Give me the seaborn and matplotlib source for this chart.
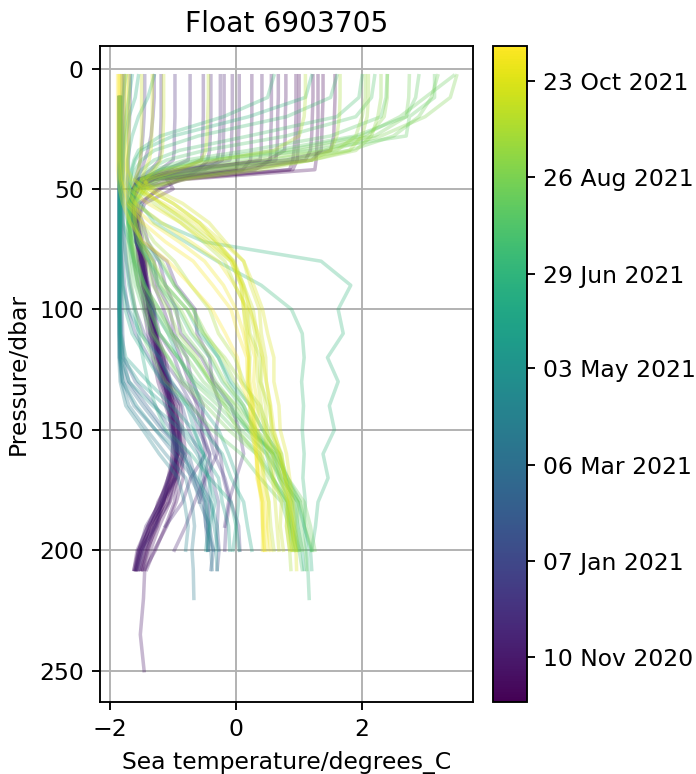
import numpy as np
import pandas as pd
import matplotlib
matplotlib.use("Agg")
import matplotlib.pyplot as plt
import matplotlib.dates as mdates
import seaborn as sns

# Pressure levels (dbar) shared by all profiles; each profile uses a prefix of them
PRES = [3, 12, 20, 28, 34, 38, 42, 46, 50, 56, 64, 72, 80, 90, 100, 110, 120, 130,
        140, 150, 160, 170, 180, 190, 200, 208, 220, 235, 250]

# ---- Autumn 2020 (purple) ----
dates_autumn_2020 = ["2020-10-14", "2020-10-15", "2020-10-17", "2020-10-20", "2020-10-23",
                     "2020-10-26", "2020-10-29", "2020-11-01", "2020-11-02", "2020-11-04",
                     "2020-11-07", "2020-11-10", "2020-11-13", "2020-11-16", "2020-11-19",
                     "2020-11-20", "2020-11-22", "2020-11-25", "2020-11-28", "2020-12-01",
                     "2020-12-04"]
temps_autumn_2020 = [
    [1.57, 1.57, 1.56, 1.55, 1.5, 0.8, -1.0, -1.55, -1.64, -1.67, -1.60, -1.58, -1.50, -1.47, -1.36, -1.33, -1.20, -1.15, -1.00, -0.98, -0.90, -1.02, -1.12, -1.33, -1.45, -1.52],
    [1.0, 1.0, 1.0, 0.99, 0.98, 0.97, 0.9, -0.9, -1.2, -1.55, -1.60, -1.54, -1.50, -1.43, -1.40, -1.30, -1.25, -1.10, -1.05, -0.95, -0.93, -1.02, -1.16, -1.36, -1.52, -1.6],
    [1.38, 1.38, 1.37, 1.36, 1.35, 1.2, -0.4, -1.45, -1.62, -1.66, -1.62, -1.53, -1.52, -1.42, -1.38, -1.27, -1.22, -1.05, -1.00, -0.88, -0.92, -0.95, -1.15, -1.25, -1.42, -1.5],
    [1.3, 1.3, 1.3, 1.29, 1.28, 1.27, 1.25, -0.8, -1.55, -1.66, -1.58, -1.56, -1.44, -1.44, -1.32, -1.30, -1.15, -1.12, -0.95, -0.92, -0.85, -0.97, -1.08, -1.28, -1.40, -1.48],
    [1.22, 1.22, 1.21, 1.2, 1.18, 1.1, 0.2, -1.2, -1.6, -1.70, -1.65, -1.57, -1.55, -1.48, -1.43, -1.35, -1.28, -1.18, -1.08, -1.02, -1.00, -1.08, -1.22, -1.40, -1.55, -1.62],
    [0.95, 0.95, 0.95, 0.94, 0.92, 0.9, 0.85, -1.0, -1.55, -1.66, -1.58, -1.53, -1.46, -1.40, -1.30, -1.26, -1.12, -1.05, -0.88, -0.85, -0.80, -0.92, -1.05, -1.22, -1.36, -1.45],
    [0.79, 0.79, 0.78, 0.78, 0.77, 0.5, -0.8, -1.5, -1.63, -1.67, -1.63, -1.55, -1.50, -1.44, -1.38, -1.26, -1.22, -1.08, -1.05, -0.94, -0.95, -0.98, -1.18, -1.30, -1.50, -1.58],
    [0.67, 0.67, 0.66, 0.66, 0.65, 0.63, 0.1, -1.35, -1.6, -1.68, -1.61, -1.59, -1.48, -1.47, -1.37, -1.35, -1.22, -1.16, -1.00, -1.00, -0.92, -1.05, -1.15, -1.37, -1.50, -1.57],
    [0.25, 0.25, 0.25, 0.24, 0.24, 0.23, 0.1, -1.1, -1.0, -1.45, -1.58, -1.50, -1.52, -1.40, -1.36, -1.28, -1.20, -1.10, -0.98, -0.90, -0.86, -0.84, -0.95, -1.10, -1.30, -1.42],
    [0.56, 0.56, 0.56, 0.55, 0.55, 0.54, 0.3, -1.3, -1.6, -1.70, -1.64, -1.58, -1.55, -1.50, -1.46, -1.40, -1.32, -1.24, -1.12, -1.00, -0.95, -0.92, -0.98, -1.12, -1.28, -1.45, -1.47, -1.52, -1.46],
    [0.41, 0.41, 0.41, 0.4, 0.4, 0.38, -0.6, -1.45, -1.62, -1.66, -1.58, -1.57, -1.45, -1.45, -1.34, -1.32, -1.18, -1.14, -1.05, -1.00, -0.97, -1.06, -1.22, -1.40, -1.57, -1.62],
    [0.05, 0.05, 0.05, 0.04, 0.04, 0.03, 0.0, -1.3, -1.6, -1.68, -1.64, -1.55, -1.50, -1.42, -1.40, -1.28, -1.27, -1.12, -1.10, -0.98, -1.02, -1.03, -1.24, -1.34, -1.55, -1.6],
    [-0.06, -0.06, -0.06, -0.07, -0.07, -0.1, -0.9, -1.5, -1.64, -1.66, -1.57, -1.56, -1.43, -1.42, -1.30, -1.29, -1.15, -1.08, -0.92, -0.92, -0.84, -0.97, -1.06, -1.30, -1.42, -1.5],
    [-0.19, -0.19, -0.19, -0.2, -0.2, -0.22, -0.5, -1.4, -1.6, -1.67, -1.64, -1.54, -1.50, -1.41, -1.39, -1.27, -1.24, -1.08, -1.06, -0.92, -0.96, -0.97, -1.18, -1.28, -1.52, -1.58],
    [-0.25, -0.25, -0.25, -0.26, -0.27, -0.3, -0.7, -1.45, -1.62, -1.65, -1.58, -1.58, -1.48, -1.48, -1.37, -1.36, -1.22, -1.18, -1.02, -1.00, -0.92, -1.08, -1.15, -1.38, -1.48, -1.55],
    [-0.4, -0.4, -0.4, -0.41, -0.42, -0.45, -0.6, -0.85, -1.25, -1.5, -1.56, -1.50, -1.38, -1.30, -1.15, -1.02, -0.88, -0.75, -0.62, -0.55, -0.42, -0.50, -0.66, -0.80, -0.98],
    [-0.52, -0.52, -0.52, -0.53, -0.53, -0.55, -0.9, -1.5, -1.62, -1.66, -1.63, -1.52, -1.48, -1.38, -1.37, -1.25, -1.23, -1.06, -1.04, -0.90, -0.95, -0.96, -1.17, -1.27, -1.48, -1.55],
    [-0.73, -0.73, -0.73, -0.74, -0.75, -0.76, -1.1, -1.55, -1.64, -1.67, -1.59, -1.59, -1.47, -1.48, -1.36, -1.37, -1.24, -1.20, -1.05, -1.04, -0.94, -1.08, -1.20, -1.43, -1.54, -1.6],
    [-0.97, -0.97, -0.97, -0.98, -0.98, -1.0, -1.2, -1.5, -1.6, -1.64, -1.55, -1.52, -1.30, -1.25, -1.05, -0.98, -0.78, -0.70, -0.52, -0.55, -0.48, -0.72, -0.85, -1.12],
    [-1.19, -1.19, -1.19, -1.2, -1.2, -1.22, -1.35, -1.55, -1.62, -1.64, -1.52, -1.48, -1.10, -0.95, -0.65, -0.62, -0.42, -0.38, -0.25, -0.32, -0.30, -0.48, -0.58],
    [-1.3, -1.3, -1.32, -1.35, -1.4, -1.45, -1.5, -1.58, -1.62, -1.60, -1.48, -1.40, -1.22, -1.12, -0.95, -0.88, -0.55, -0.35, -0.08, 0.05, 0.12, 0.0, -0.12, -0.18],
]

# ---- Early winter 2020/21 (indigo) ----
dates_winter_2021 = ["2020-12-10", "2020-12-22", "2021-01-04", "2021-01-18", "2021-02-01", "2021-02-15"]
temps_winter_2021 = [
    [-1.45, -1.45, -1.46, -1.48, -1.5, -1.52, -1.55, -1.6, -1.64, -1.66, -1.63, -1.58, -1.52, -1.44, -1.30, -1.22, -0.98, -0.85, -0.58, -0.45, -0.25, -0.20, -0.10, -0.16, -0.18],
    [-1.68, -1.68, -1.69, -1.7, -1.7, -1.71, -1.71, -1.72, -1.72, -1.72, -1.7, -1.67, -1.62, -1.55, -1.45, -1.30, -1.18, -0.90, -0.70, -0.45, -0.35, -0.18, -0.08, 0.04, 0.06],
    [-1.78, -1.78, -1.78, -1.79, -1.79, -1.79, -1.79, -1.8, -1.8, -1.8, -1.79, -1.77, -1.74, -1.68, -1.6, -1.46, -1.22, -1.04, -0.72, -0.60, -0.42, -0.38, -0.28, -0.30, -0.27, -0.3],
    [-1.81, -1.81, -1.81, -1.81, -1.82, -1.82, -1.82, -1.82, -1.82, -1.82, -1.82, -1.81, -1.8, -1.77, -1.72, -1.6, -1.38, -1.18, -0.86, -0.75, -0.58, -0.52, -0.42, -0.45, -0.44],
    [None, -1.83, -1.83, -1.83, -1.83, -1.83, -1.83, -1.83, -1.83, -1.83, -1.83, -1.83, -1.82, -1.82, -1.81, -1.8, -1.78, -1.6, -1.28, -1.04, -0.75, -0.65, -0.50, -0.48, -0.45],
    [None, -1.84, -1.84, -1.84, -1.84, -1.84, -1.84, -1.84, -1.84, -1.84, -1.84, -1.84, -1.84, -1.83, -1.83, -1.82, -1.8, -1.7, -1.42, -1.14, -0.82, -0.72, -0.52, -0.48, -0.36, -0.4],
]

# ---- Spring 2021 (blue-teal) ----
dates_spring_2021 = ["2021-03-01", "2021-03-13", "2021-03-25", "2021-04-06", "2021-04-18",
                     "2021-04-30", "2021-05-05", "2021-05-12", "2021-05-24", "2021-05-28"]
temps_spring_2021 = [
    [None, -1.85, -1.85, -1.85, -1.85, -1.85, -1.85, -1.85, -1.85, -1.85, -1.85, -1.85, -1.85, -1.85, -1.85, -1.85, -1.84, -1.75, -1.48, -1.18, -0.82, -0.66, -0.46, -0.42, -0.36],
    [None, -1.86, -1.86, -1.86, -1.86, -1.86, -1.86, -1.86, -1.86, -1.86, -1.86, -1.86, -1.86, -1.86, -1.86, -1.85, -1.85, -1.8, -1.62, -1.28, -0.98, -0.68, -0.58, -0.42, -0.4, -0.38],
    [None, -1.86, -1.86, -1.86, -1.86, -1.86, -1.86, -1.86, -1.86, -1.86, -1.86, -1.86, -1.86, -1.86, -1.86, -1.86, -1.85, -1.82, -1.7, -1.42, -1.12, -0.80, -0.70, -0.66, -0.70, -0.68, -0.67],
    [None, -1.86, -1.86, -1.86, -1.86, -1.86, -1.86, -1.86, -1.86, -1.86, -1.86, -1.86, -1.86, -1.86, -1.86, -1.86, -1.86, -1.84, -1.75, -1.48, -1.22, -0.92, -0.82, -0.76, -0.8],
    [None, -1.85, -1.85, -1.85, -1.85, -1.85, -1.85, -1.85, -1.85, -1.85, -1.85, -1.85, -1.85, -1.85, -1.85, -1.85, -1.84, -1.8, -1.58, -1.28, -0.88, -0.62, -0.40, -0.35, -0.28],
    [None, -1.85, -1.85, -1.85, -1.85, -1.85, -1.85, -1.85, -1.85, -1.85, -1.85, -1.85, -1.85, -1.85, -1.85, -1.84, -1.83, -1.7, -1.32, -0.88, -0.62, -0.43, -0.40, -0.30, -0.32, -0.3],
    [None, -1.84, -1.84, -1.84, -1.84, -1.84, -1.84, -1.84, -1.84, -1.84, -1.84, -1.84, -1.82, -1.8, -1.70, -1.52, -1.22, -1.02, -0.78, -0.66, -0.52, -0.58, -0.48, -0.44, -0.48],
    [None, -1.85, -1.85, -1.85, -1.85, -1.85, -1.85, -1.85, -1.85, -1.85, -1.85, -1.85, -1.85, -1.85, -1.85, -1.84, -1.8, -1.55, -1.12, -0.82, -0.52, -0.44, -0.33, -0.42, -0.45],
    [None, -1.84, -1.84, -1.84, -1.84, -1.84, -1.84, -1.84, -1.84, -1.84, -1.84, -1.84, -1.84, -1.84, -1.84, -1.83, -1.75, -1.4, -1.02, -0.68, -0.52, -0.28, -0.22, -0.12, -0.1],
    [None, -1.83, -1.83, -1.83, -1.83, -1.83, -1.83, -1.83, -1.83, -1.83, -1.80, -1.70, -1.62, -1.44, -1.32, -1.08, -0.92, -0.68, -0.56, -0.28, -0.12, 0.02, 0.04, 0.0, -0.05],
]

# ---- Early summer 2021 (teal-green) ----
dates_early_summer_2021 = ["2021-06-05", "2021-06-11", "2021-06-17", "2021-06-23", "2021-06-29",
                           "2021-07-06", "2021-07-13", "2021-07-20", "2021-07-27"]
temps_early_summer_2021 = [
    [-1.75, -1.8, -1.82, -1.83, -1.84, -1.84, -1.84, -1.84, -1.84, -1.84, -1.84, -1.83, -1.82, -1.8, -1.76, -1.65, -1.42, -1.18, -0.78, -0.52, -0.22, -0.08, 0.12, 0.18, 0.25],
    [-1.65, -1.7, -1.75, -1.78, -1.8, -1.8, -1.8, -1.8, -1.8, -1.8, -1.8, -1.78, -1.75, -1.7, -1.62, -1.55, -1.48, -1.4, -1.28, -1.12, -0.72, -0.42, -0.08, 0.0, 0.05],
    [-1.55, -1.6, -1.7, -1.75, -1.78, -1.8, -1.8, -1.8, -1.8, -1.78, -1.72, -1.6, -1.38, -1.12, -0.78, -0.58, -0.28, -0.08, 0.22, 0.42, 0.68, 0.78, 0.92, 0.98, 1.05, 1.08],
    [-1.3, -1.4, -1.55, -1.65, -1.7, -1.72, -1.72, -1.73, -1.74, -1.72, -1.65, -1.5, -1.22, -0.98, -0.68, -0.52, -0.28, -0.12, 0.12, 0.28, 0.58, 0.72, 0.98, 1.08, 1.18, 1.2],
    [1.2, 1.1, 0.2, -1.0, -1.5, -1.6, -1.65, -1.68, -1.7, -1.6, -1.2, -0.5, 1.35, 1.82, 1.62, 1.7, 1.45, 1.62, 1.48, 1.56, 1.38, 1.46, 1.3, 1.26, 1.2],
    [0.6, 0.5, -0.2, -1.2, -1.55, -1.62, -1.66, -1.68, -1.68, -1.52, -1.3, -0.8, -0.3, 0.4, 0.88, 1.05, 1.08, 1.04, 1.07, 1.05, 1.08, 1.06, 1.1, 1.08, 1.12, 1.14, 1.16],
    [1.6, 1.5, 0.8, -0.6, -1.3, -1.5, -1.6, -1.65, -1.7, -1.7, -1.65, -1.55, -1.38, -1.22, -0.92, -0.72, -0.42, -0.22, 0.08, 0.28, 0.52, 0.68, 0.88, 0.92, 1.0],
    [2.0, 1.95, 1.6, 0.2, -0.9, -1.3, -1.5, -1.6, -1.68, -1.72, -1.7, -1.65, -1.58, -1.45, -1.22, -1.02, -0.68, -0.42, -0.08, 0.18, 0.48, 0.58, 0.78, 0.88, 1.0, 1.05],
    [2.2, 2.15, 1.9, 0.8, -0.5, -1.1, -1.4, -1.55, -1.62, -1.68, -1.7, -1.68, -1.64, -1.55, -1.38, -1.22, -0.92, -0.62, -0.18, 0.18, 0.62, 0.82, 1.02, 1.08, 1.2],
]

# ---- Late summer 2021 (green) ----
dates_late_summer_2021 = ["2021-08-03", "2021-08-06", "2021-08-09", "2021-08-15", "2021-08-18",
                          "2021-08-21", "2021-08-27", "2021-09-02", "2021-09-05", "2021-09-08",
                          "2021-09-14", "2021-09-20"]
temps_late_summer_2021 = [
    [2.4, 2.38, 2.3, 1.5, 0.2, -0.8, -1.3, -1.5, -1.62, -1.7, -1.72, -1.7, -1.66, -1.6, -1.48, -1.36, -1.08, -0.82, -0.38, -0.02, 0.38, 0.58, 0.82, 0.88, 0.95],
    [2.9, 2.85, 2.7, 1.9, 0.6, -0.6, -1.2, -1.5, -1.6, -1.7, -1.72, -1.72, -1.7, -1.66, -1.6, -1.5, -1.32, -1.12, -0.72, -0.38, 0.08, 0.38, 0.72, 0.84, 0.92],
    [3.15, 3.15, 2.75, 2.7, 1.2, -0.5, -1.2, -1.5, -1.62, -1.68, -1.7, -1.68, -1.62, -1.52, -1.36, -1.22, -0.92, -0.68, -0.28, 0.08, 0.48, 0.72, 0.98, 1.02, 1.1, 1.12],
    [3.45, 3.0, 2.6, 2.0, 0.8, -0.4, -1.1, -1.45, -1.6, -1.68, -1.7, -1.66, -1.6, -1.48, -1.28, -1.08, -0.78, -0.52, -0.12, 0.22, 0.62, 0.82, 1.08, 1.18, 1.25],
    [3.2, 3.1, 2.9, 2.5, 1.8, 0.8, -0.4, -1.2, -1.5, -1.62, -1.6, -1.52, -1.38, -1.24, -0.98, -0.82, -0.52, -0.32, -0.02, 0.22, 0.58, 0.78, 1.02, 1.12, 1.2],
    [2.75, 2.74, 2.7, 2.2, 1.0, 0.0, -0.9, -1.4, -1.58, -1.65, -1.68, -1.66, -1.62, -1.56, -1.44, -1.32, -1.08, -0.88, -0.48, -0.12, 0.32, 0.58, 0.82, 0.92, 1.0],
    [3.5, 3.4, 3.0, 2.3, 1.5, 0.5, -0.6, -1.3, -1.55, -1.64, -1.66, -1.64, -1.56, -1.46, -1.22, -1.02, -0.68, -0.38, 0.02, 0.32, 0.68, 0.82, 0.98, 0.96, 1.05],
    [2.4, 2.4, 2.35, 2.1, 1.4, 0.3, -0.7, -1.35, -1.58, -1.66, -1.6, -1.5, -1.32, -1.18, -0.88, -0.68, -0.38, -0.18, 0.12, 0.32, 0.58, 0.68, 0.82, 0.84, 0.9],
    [2.3, 2.3, 2.25, 2.15, 1.9, 1.2, 0.0, -1.0, -1.45, -1.6, -1.62, -1.55, -1.42, -1.32, -1.08, -0.92, -0.62, -0.42, -0.18, 0.02, 0.32, 0.52, 0.78, 0.86, 0.95],
    [2.05, 2.05, 2.0, 1.9, 1.6, 0.9, -0.3, -1.2, -1.5, -1.6, -1.55, -1.4, -1.18, -0.98, -0.68, -0.48, -0.22, -0.02, 0.22, 0.42, 0.68, 0.78, 0.92, 0.94, 0.98],
    [2.1, 2.1, 2.08, 2.0, 1.8, 1.2, 0.2, -0.9, -1.45, -1.62, -1.6, -1.5, -1.32, -1.12, -0.78, -0.52, -0.18, 0.08, 0.38, 0.52, 0.72, 0.78, 0.88, 0.88, 0.95],
    [1.65, 1.65, 1.64, 1.6, 1.5, 1.2, 0.4, -0.8, -1.4, -1.58, -1.5, -1.3, -0.98, -0.72, -0.42, -0.28, -0.02, 0.12, 0.32, 0.48, 0.62, 0.7, 0.82, 0.8, 0.85, 0.87],
]

# ---- Autumn 2021 (yellow) ----
dates_autumn_2021 = ["2021-09-27", "2021-10-03", "2021-10-09", "2021-10-12", "2021-10-15",
                     "2021-10-21", "2021-10-24", "2021-10-27", "2021-11-02", "2021-11-05",
                     "2021-11-08", "2021-11-13"]
temps_autumn_2021 = [
    [1.1, 1.1, 1.08, 1.0, 0.6, -0.3, -1.1, -1.5, -1.55, -1.3, -0.88, -0.52, -0.18, -0.02, 0.18, 0.22, 0.38, 0.38, 0.52, 0.58, 0.72, 0.78, 0.86, 0.84, 0.88],
    [-0.44, -0.44, -0.45, -0.46, -0.48, -0.55, -0.9, -1.4, -1.5, -1.2, -0.78, -0.42, -0.08, 0.08, 0.12, 0.18, 0.22, 0.2, 0.26, 0.3, 0.38, 0.45, 0.52, 0.55, 0.6],
    [-1.15, -1.15, -1.15, -1.16, -1.17, -1.2, -1.3, -1.45, -1.4, -1.0, -0.58, -0.32, -0.03, 0.12, 0.27, 0.33, 0.42, 0.4, 0.47, 0.48, 0.57, 0.6, 0.72, 0.7, 0.75],
    [-1.5, -1.5, -1.5, -1.5, -1.51, -1.52, -1.55, -1.6, -1.5, -1.2, -0.75, -0.35, -0.05, 0.12, 0.22, 0.3, 0.32, 0.35, 0.4, 0.45, 0.5, 0.58, 0.62, 0.65, 0.68],
    [-1.33, -1.33, -1.33, -1.34, -1.35, -1.38, -1.45, -1.5, -1.3, -0.85, -0.43, -0.17, 0.12, 0.23, 0.37, 0.4, 0.47, 0.48, 0.54, 0.56, 0.67, 0.73, 0.82, 0.8, 0.85],
    [-1.7, -1.7, -1.7, -1.7, -1.71, -1.72, -1.72, -1.65, -1.4, -1.0, -0.58, -0.22, 0.12, 0.28, 0.42, 0.5, 0.6, 0.6, 0.68, 0.7, 0.8, 0.85, 0.9, 0.92, 0.95, 0.96],
    [-1.74, -1.74, -1.74, -1.74, -1.74, -1.74, -1.73, -1.7, -1.6, -1.15, -0.65, -0.3, -0.05, 0.1, 0.22, 0.35, 0.42, 0.48, 0.55, 0.6, 0.7, 0.78, 0.85, 0.9, 0.9],
    [-1.78, -1.78, -1.78, -1.78, -1.78, -1.78, -1.77, -1.75, -1.7, -1.4, -0.88, -0.47, -0.08, 0.08, 0.12, 0.15, 0.2, 0.18, 0.22, 0.25, 0.32, 0.35, 0.42, 0.42, 0.45],
    [-1.82, -1.82, -1.82, -1.82, -1.82, -1.82, -1.81, -1.8, -1.75, -1.6, -1.18, -0.72, -0.28, -0.02, 0.17, 0.2, 0.3, 0.28, 0.35, 0.34, 0.42, 0.43, 0.52, 0.5, 0.55],
    [-1.84, -1.84, -1.84, -1.84, -1.84, -1.84, -1.83, -1.82, -1.78, -1.7, -1.35, -0.9, -0.5, -0.2, 0.0, 0.12, 0.2, 0.22, 0.28, 0.3, 0.32, 0.35, 0.4, 0.42, 0.42],
    [-1.86, -1.86, -1.86, -1.86, -1.86, -1.86, -1.85, -1.84, -1.8, -1.75, -1.48, -1.12, -0.68, -0.37, -0.08, 0.03, 0.17, 0.18, 0.27, 0.28, 0.37, 0.38, 0.47, 0.48, 0.5],
    [-1.88, -1.88, -1.88, -1.88, -1.88, -1.88, -1.88, -1.87, -1.85, -1.8, -1.68, -1.47, -1.08, -0.72, -0.38, -0.17, 0.02, 0.08, 0.22, 0.23, 0.32, 0.33, 0.42, 0.43, 0.45],
]

CBAR_TICK_LABELS = ["10 Nov 2020", "07 Jan 2021", "06 Mar 2021", "03 May 2021",
                    "29 Jun 2021", "26 Aug 2021", "23 Oct 2021"]
X_TICKS = [-2, 0, 2]
Y_TICKS = [0, 50, 100, 150, 200, 250]

# ---- build long-form table ----
groups = [
    (dates_autumn_2020, temps_autumn_2020),
    (dates_winter_2021, temps_winter_2021),
    (dates_spring_2021, temps_spring_2021),
    (dates_early_summer_2021, temps_early_summer_2021),
    (dates_late_summer_2021, temps_late_summer_2021),
    (dates_autumn_2021, temps_autumn_2021),
]
rows = []
pid = 0
for dates, temps in groups:
    for d, prof in zip(dates, temps):
        dn = mdates.date2num(pd.Timestamp(d))
        for p, t in zip(PRES, prof):
            if t is None:
                continue
            rows.append((pid, dn, p, t))
        pid += 1
df = pd.DataFrame(rows, columns=["profile", "date", "pres", "temp"])

DPI = 169
W, H = 696, 774
fig = plt.figure(figsize=(W / DPI, H / DPI), dpi=DPI)
ax = fig.add_axes([100 / W, 1 - 702 / H, 373 / W, 656 / H])
cax = fig.add_axes([493 / W, 1 - 702 / H, 34 / W, 656 / H])

norm = matplotlib.colors.Normalize(vmin=df["date"].min(), vmax=df["date"].max())
sns.lineplot(data=df, x="temp", y="pres", hue="date", units="profile",
             estimator=None, sort=False, palette="viridis", hue_norm=norm,
             alpha=0.3, linewidth=1.5, legend=False, ax=ax)

ax.set_xlim(-2.16, 3.76)
ax.set_ylim(263, -9.35)
ax.set_xticks(X_TICKS)
ax.set_yticks(Y_TICKS)
ax.grid(True)
ax.set_axisbelow(True)
ax.set_xlabel("Sea temperature/degrees_C")
ax.set_ylabel("Pressure/dbar")
ax.set_title("Float 6903705")

sm = matplotlib.cm.ScalarMappable(norm=norm, cmap="viridis")
cb = fig.colorbar(sm, cax=cax)
tick_vals = [mdates.date2num(pd.to_datetime(s, format="%d %b %Y")) for s in CBAR_TICK_LABELS]
cb.set_ticks(tick_vals)
cb.set_ticklabels(CBAR_TICK_LABELS)

fig.savefig("out.png", dpi=DPI)
